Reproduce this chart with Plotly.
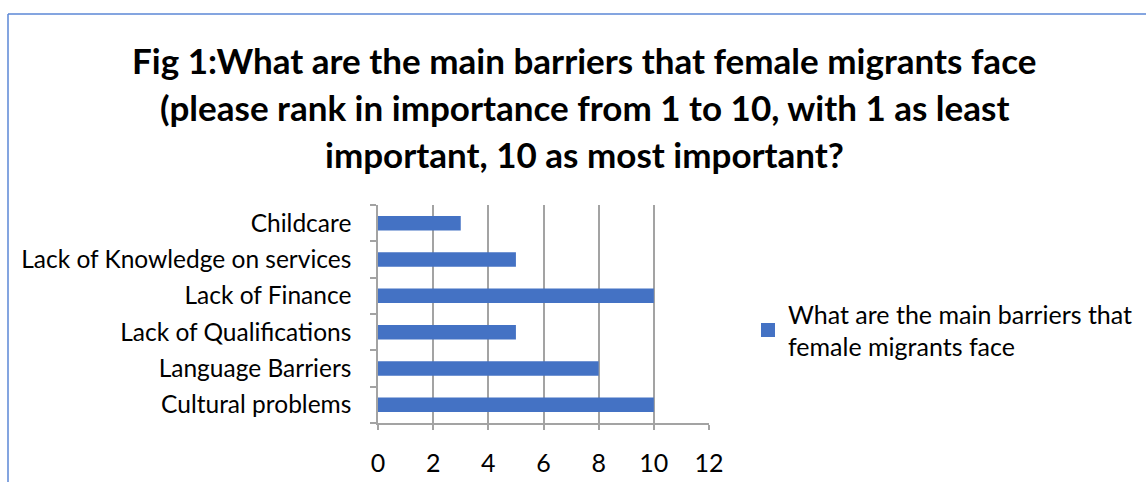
import plotly.graph_objects as go

# Survey results: ranked importance of barriers (1 = least, 10 = most)
categories = [
    "Cultural problems",
    "Language Barriers",
    "Lack of Qualifications",
    "Lack of Finance",
    "Lack of Knowledge on services",
    "Childcare",
]
scores = [10, 8, 5, 10, 5, 3]
x_ticks = [0, 2, 4, 6, 8, 10, 12]
title_lines = [
    "Fig 1:What are the main barriers that female migrants face",
    "(please rank in importance from 1 to 10, with 1 as least",
    "important, 10 as most important?",
]
legend_label = "What are the main barriers that<br>female migrants face"

W, H = 1146, 482
ML, MR, MT, MB = 378, 437, 205, 59
PW, PH = W - ML - MR, H - MT - MB

def px_x(px):
    return (px - ML) / PW

def px_y(py):
    return (H - MB - py) / PH

FONT = "Lato"
BAR = "#4472C4"
GRID = "#a3a3a3"

fig = go.Figure()
fig.add_trace(
    go.Bar(
        x=scores,
        y=categories,
        orientation="h",
        marker=dict(color=BAR, line=dict(width=0)),
        width=0.4,
        showlegend=False,
    )
)
# Legend swatch: a larger square key for the bar series
fig.add_trace(
    go.Scatter(
        x=[None],
        y=[None],
        mode="markers",
        marker=dict(symbol="square", size=14, color=BAR),
        name=legend_label,
        showlegend=True,
    )
)

# Title drawn line by line so each line sits at its own height
title_centres = [60, 107, 154]
annotations = [
    dict(
        text=line, xref="paper", yref="paper",
        x=px_x(584), y=px_y(cy), xanchor="center", yanchor="middle",
        showarrow=False,
        font=dict(family=FONT, size=35, color="#000000", weight="bold"),
    )
    for line, cy in zip(title_lines, title_centres)
]

fig.update_layout(
    width=W,
    height=H,
    margin=dict(l=ML, r=MR, t=MT, b=MB, pad=0, autoexpand=False),
    paper_bgcolor="white",
    plot_bgcolor="white",
    font=dict(family=FONT, color="#000000"),
    annotations=annotations,
    xaxis=dict(
        range=[0, 12],
        tickvals=x_ticks,
        showgrid=True,
        gridcolor=GRID,
        gridwidth=1.5,
        showline=True,
        linecolor=GRID,
        linewidth=1.5,
        ticks="outside",
        ticklen=5,
        tickwidth=1.5,
        tickcolor=GRID,
        tickfont=dict(size=25, family=FONT),
        ticklabelstandoff=12,
        zeroline=False,
        fixedrange=True,
        automargin=False,
    ),
    yaxis=dict(
        type="category",
        categoryorder="array",
        categoryarray=categories,
        showline=True,
        linecolor=GRID,
        linewidth=1.5,
        ticks="outside",
        ticklen=6,
        tickwidth=1.5,
        tickcolor=GRID,
        tickson="boundaries",
        tickfont=dict(size=24.5, family=FONT),
        showgrid=False,
        fixedrange=True,
        ticklabelstandoff=20,
        automargin=False,
    ),
    legend=dict(
        x=px_x(748),
        y=px_y(330),
        xanchor="left",
        yanchor="middle",
        font=dict(size=25, family=FONT),
        bgcolor="rgba(0,0,0,0)",
        itemwidth=30,
        itemsizing="trace",
    ),
    bargap=0.6,
    shapes=[
        dict(type="line", xref="paper", yref="paper",
             x0=px_x(8), x1=px_x(W + 5), y0=px_y(14), y1=px_y(14),
             line=dict(color="#5b87d6", width=1.5)),
        dict(type="line", xref="paper", yref="paper",
             x0=px_x(8), x1=px_x(8), y0=px_y(14), y1=px_y(H + 5),
             line=dict(color="#5b87d6", width=1.5)),
    ],
)

fig.write_html("out.html")
